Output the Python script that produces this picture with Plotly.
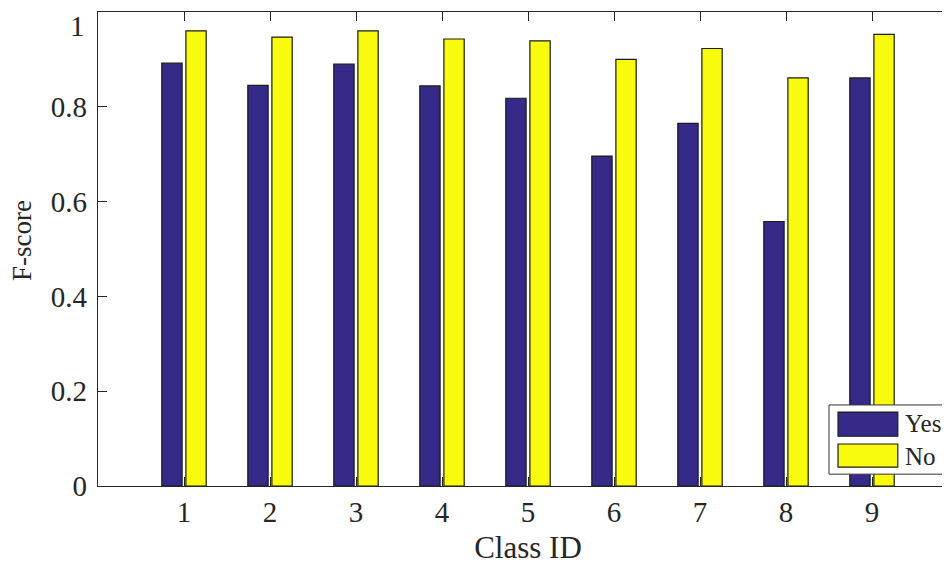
import plotly.graph_objects as go

classes = [1, 2, 3, 4, 5, 6, 7, 8, 9]
yes_scores = [0.892, 0.845, 0.890, 0.844, 0.818, 0.696, 0.765, 0.558, 0.861]
no_scores = [0.960, 0.947, 0.960, 0.943, 0.939, 0.900, 0.923, 0.861, 0.953]
series_names = ["Yes", "No"]
y_ticks = [0, 0.2, 0.4, 0.6, 0.8, 1]
y_ticktext = ["0", "0.2", "0.4", "0.6", "0.8", "1"]
x_title = "Class ID"
y_title = "F-score"

NAVY = "#352A87"
YELLOW = "#F9FB0E"
AX = "#262626"
FONT = "Liberation Serif, Times New Roman, serif"

fig = go.Figure()
fig.add_trace(go.Bar(x=classes, y=yes_scores, name=series_names[0],
                     width=0.236, offset=-0.258,
                     marker=dict(color=NAVY, line=dict(color="#1a1a1a", width=1.2)),
                     showlegend=False))
fig.add_trace(go.Bar(x=classes, y=no_scores, name=series_names[1],
                     width=0.236, offset=0.022,
                     marker=dict(color=YELLOW, line=dict(color="#1a1a1a", width=1.2)),
                     showlegend=False))

# custom MATLAB-style legend
shapes = [
    dict(type="rect", xref="paper", yref="paper", x0=0.850, x1=1.03, y0=0.025, y1=0.171,
         line=dict(color="#333333", width=1), fillcolor="white", layer="above"),
    dict(type="rect", xref="paper", yref="paper", x0=0.8605, x1=0.930, y0=0.105, y1=0.156,
         line=dict(color="#1a1a1a", width=1.2), fillcolor=NAVY, layer="above"),
    dict(type="rect", xref="paper", yref="paper", x0=0.8605, x1=0.930, y0=0.040, y1=0.0886,
         line=dict(color="#1a1a1a", width=1.2), fillcolor=YELLOW, layer="above"),
]
annotations = [
    dict(xref="paper", yref="paper", x=0.936, y=0.131, text=series_names[0], showarrow=False,
         xanchor="left", yanchor="middle", font=dict(family=FONT, size=25, color=AX)),
    dict(xref="paper", yref="paper", x=0.936, y=0.063, text=series_names[1], showarrow=False,
         xanchor="left", yanchor="middle", font=dict(family=FONT, size=25, color=AX)),
    # top tick label, placed so it is not clipped by the page edge
    dict(xref="paper", yref="paper", x=-0.0125, y=1.0084, text=y_ticktext[-1], showarrow=False,
         xanchor="right", yanchor="top", font=dict(family=FONT, size=29, color=AX)),
    # y axis title
    dict(xref="paper", yref="paper", x=-0.0884, y=0.519, text=y_title, showarrow=False,
         textangle=-90, xanchor="center", yanchor="middle",
         font=dict(family=FONT, size=27, color=AX)),
]

fig.update_layout(
    width=950, height=567,
    margin=dict(l=90, r=0, t=4, b=89),
    paper_bgcolor="white", plot_bgcolor="white",
    font=dict(family=FONT, size=29, color=AX),
    barmode="overlay",
    shapes=shapes, annotations=annotations,
    xaxis=dict(range=[0, 10], tickmode="array", tickvals=classes,
               ticktext=[str(c) for c in classes],
               ticks="inside", ticklen=9, tickwidth=1.2, tickcolor=AX,
               showline=True, linecolor=AX, linewidth=1.2, mirror="ticks",
               showgrid=False, zeroline=False, automargin=False,
               title=dict(text=x_title, standoff=9, font=dict(size=31)),
               tickfont=dict(size=29)),
    yaxis=dict(range=[0, 1], tickmode="array", tickvals=y_ticks,
               ticktext=y_ticktext[:-1] + [""],
               ticks="inside", ticklen=9, tickwidth=1.2, tickcolor=AX,
               showline=True, linecolor=AX, linewidth=1.2, mirror=False,
               showgrid=False, zeroline=False, automargin=False,
               tickfont=dict(size=29), ticklabelstandoff=4,
               ticklabeloverflow="allow"),
)

fig.write_html("out.html")
